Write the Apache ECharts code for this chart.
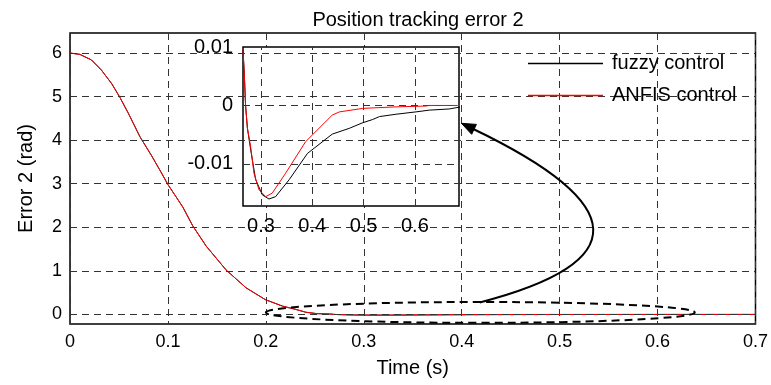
<!DOCTYPE html>
<html><head><meta charset="utf-8">
<script src="https://cdn.jsdelivr.net/npm/echarts@6/dist/echarts.min.js"></script>
<style>html,body{margin:0;padding:0;background:#fff}#c{width:771px;height:385px}</style>
</head><body><div id="c"></div>
<script>
// ---- texts ----
const titleText = 'Position tracking error 2';
const xName = 'Time (s)';
const yName = 'Error 2 (rad)';
const seriesNames = ['fuzzy control', 'ANFIS control'];
// ---- tick values ----
const mainYTicks = [0, 1, 2, 3, 4, 5, 6];
const insetXTicks = [0.3, 0.4, 0.5, 0.6];
const insetYTicks = [-0.01, 0, 0.01];
// ---- data: common initial decay (both controllers coincide at this scale) ----
const headTime = [0, 0.01, 0.022, 0.032, 0.0425, 0.051, 0.0595, 0.0714, 0.0834, 0.0936, 0.1, 0.108, 0.1153, 0.1254, 0.139, 0.1594, 0.1798, 0.1994, 0.217, 0.2306, 0.2408, 0.252];
const headErr  = [6, 5.97, 5.84, 5.61, 5.30, 4.98, 4.62, 4.08, 3.64, 3.24, 2.98, 2.71, 2.46, 2.03, 1.57, 1.02, 0.61, 0.34, 0.19, 0.115, 0.05, 0.018];
// ---- data: zoomed region ----
const fuzzyTime = [0.265, 0.2675, 0.270, 0.2736, 0.28, 0.2897, 0.3027, 0.3156, 0.3285, 0.355, 0.3907, 0.439, 0.4726, 0.497, 0.5178, 0.531, 0.5634, 0.6023, 0.628, 0.667, 0.686, 0.7];
const fuzzyErr  = [0.0095, 0.0055, 0.0000, -0.0039, -0.0076, -0.0127, -0.0153, -0.0160, -0.0156, -0.0127, -0.0082, -0.0049, -0.0039, -0.0030, -0.0024, -0.0019, -0.0015, -0.0011, -0.0008, -0.0006, -0.0003, -0.0002];
const anfisTime = [0.265, 0.2675, 0.270, 0.2736, 0.28, 0.2864, 0.2961, 0.3092, 0.322, 0.348, 0.387, 0.439, 0.453, 0.4985, 0.5634, 0.6218, 0.628, 0.683, 0.7];
const anfisErr  = [0.0095, 0.0055, 0.0000, -0.0039, -0.0071, -0.0116, -0.0144, -0.0156, -0.0150, -0.0116, -0.0062, -0.00165, -0.0011, -0.0005, -0.00024, -0.0001, 0, 0, 0];

const FONT = 'Arial, "Liberation Sans", sans-serif';
const pairs = (t, v) => t.map((x, i) => [x, v[i]]);
const headPairs = pairs(headTime, headErr);
const fuzzyPairs = pairs(fuzzyTime, fuzzyErr);
const anfisPairs = pairs(anfisTime, anfisErr);

const dash = {type: [7, 5], color: '#333', width: 1};
const gridMark = (list) => ({
  silent: true, symbol: ['none', 'none'], animation: false,
  label: {show: false}, lineStyle: dash, emphasis: {disabled: true},
  data: list
});

const chart = echarts.init(document.getElementById('c'), null, {renderer: 'canvas'});
const option = {
  backgroundColor: '#fff',
  animation: false,
  title: {
    text: titleText, left: 413, top: 5, textAlign: 'center',
    textStyle: {fontFamily: FONT, fontSize: 20, fontWeight: 'normal', color: '#000'}
  },
  legend: {
    orient: 'vertical', left: 523, top: 48, itemWidth: 75, itemHeight: 1.5, itemGap: 11, z: 20,
    icon: 'rect',
    textStyle: {fontFamily: FONT, fontSize: 20, color: '#000', lineHeight: 21, padding: [0, 0, 0, 4]},
    data: seriesNames
  },
  grid: [
    {left: 70, right: 15, top: 33, bottom: 61, show: true, borderColor: '#000', borderWidth: 1.5, backgroundColor: '#fff', z: 0},
    {left: 243, right: 312, top: 47, bottom: 179, show: true, borderColor: '#000', borderWidth: 1.5, backgroundColor: '#fff', z: 5}
  ],
  xAxis: [
    {
      type: 'value', gridIndex: 0, min: 0, max: 0.7, interval: 0.1,
      name: xName, nameLocation: 'middle', nameGap: 34,
      nameTextStyle: {fontFamily: FONT, fontSize: 20, color: '#000'},
      axisLine: {show: false}, axisTick: {show: false},
      axisLabel: {fontFamily: FONT, fontSize: 18, color: '#000', margin: 9},
      splitLine: {show: true, lineStyle: dash}
    },
    {
      type: 'value', gridIndex: 1, min: 0.265, max: 0.686, z: 6,
      axisLine: {show: false}, axisTick: {show: false},
      axisLabel: {fontFamily: FONT, fontSize: 20, color: '#000', margin: 10, customValues: insetXTicks},
      splitLine: {show: false}
    }
  ],
  yAxis: [
    {
      type: 'value', gridIndex: 0, min: -0.22, max: 6.46,
      name: yName, nameLocation: 'middle', nameGap: 34, nameRotate: 90,
      nameTextStyle: {fontFamily: FONT, fontSize: 20, color: '#000'},
      axisLine: {show: false}, axisTick: {show: false},
      axisLabel: {fontFamily: FONT, fontSize: 18, color: '#000', margin: 8, customValues: mainYTicks},
      splitLine: {show: false}
    },
    {
      type: 'value', gridIndex: 1, min: -0.0172, max: 0.01, z: 6,
      axisLine: {show: false}, axisTick: {show: false},
      axisLabel: {fontFamily: FONT, fontSize: 20, color: '#000', margin: 10, customValues: insetYTicks},
      splitLine: {show: false}
    }
  ],
  series: [
    {
      name: seriesNames[0], type: 'line', xAxisIndex: 0, yAxisIndex: 0, showSymbol: false, z: 2,
      data: headPairs.concat(fuzzyPairs), color: '#000', lineStyle: {color: '#000', width: 1}, itemStyle: {color: '#000'},
      markLine: gridMark(mainYTicks.map(v => ({yAxis: v})))
    },
    {
      name: seriesNames[1], type: 'line', xAxisIndex: 0, yAxisIndex: 0, showSymbol: false, z: 3,
      data: headPairs.concat(anfisPairs), color: '#ff0000', lineStyle: {color: '#ff0000', width: 1}, itemStyle: {color: '#ff0000'}
    },
    {
      name: seriesNames[0], type: 'line', xAxisIndex: 1, yAxisIndex: 1, showSymbol: false, z: 7, clip: true,
      data: fuzzyPairs, color: '#000', lineStyle: {color: '#000', width: 1}, itemStyle: {color: '#000'},
      markLine: gridMark(insetXTicks.map(v => ({xAxis: v})).concat([{yAxis: 0}, {yAxis: -0.01}]))
    },
    {
      name: seriesNames[1], type: 'line', xAxisIndex: 1, yAxisIndex: 1, showSymbol: false, z: 8, clip: true,
      data: anfisPairs, color: '#ff0000', lineStyle: {color: '#ff0000', width: 1}, itemStyle: {color: '#ff0000'}
    }
  ]
};
chart.setOption(option);

// annotation (ellipse around the settled region + arrow to the inset), placed in data coordinates
const P = (x, y) => chart.convertToPixel({xAxisIndex: 0, yAxisIndex: 0}, [x, y]);
const ec = P(0.419, 0.046), ex = P(0.419 + 0.219, 0.046), ey = P(0.419, 0.046 + 0.24);
const s = P(0.4184, 0.275), c = P(0.654, 1.65), e = P(0.3997, 4.387);
let dx = e[0] - c[0], dy = e[1] - c[1];
const len = Math.hypot(dx, dy); dx /= len; dy /= len;
const L = 14, W = 5.5;
const bx = e[0] - dx * L, by = e[1] - dy * L;
chart.setOption({
  graphic: [
    {type: 'ellipse', z: 100, silent: true,
      shape: {cx: ec[0], cy: ec[1], rx: ex[0] - ec[0], ry: ec[1] - ey[1]},
      style: {fill: null, stroke: '#000', lineWidth: 2, lineDash: [8, 5]}},
    {type: 'bezierCurve', z: 100, silent: true,
      shape: {x1: s[0], y1: s[1], cpx1: c[0], cpy1: c[1], x2: bx + dx * 2, y2: by + dy * 2},
      style: {fill: null, stroke: '#000', lineWidth: 2}},
    {type: 'polygon', z: 100, silent: true,
      shape: {points: [[e[0], e[1]], [bx - dy * W, by + dx * W], [bx + dy * W, by - dx * W]]},
      style: {fill: '#000', stroke: '#000', lineWidth: 1}}
  ]
});
</script></body></html>
